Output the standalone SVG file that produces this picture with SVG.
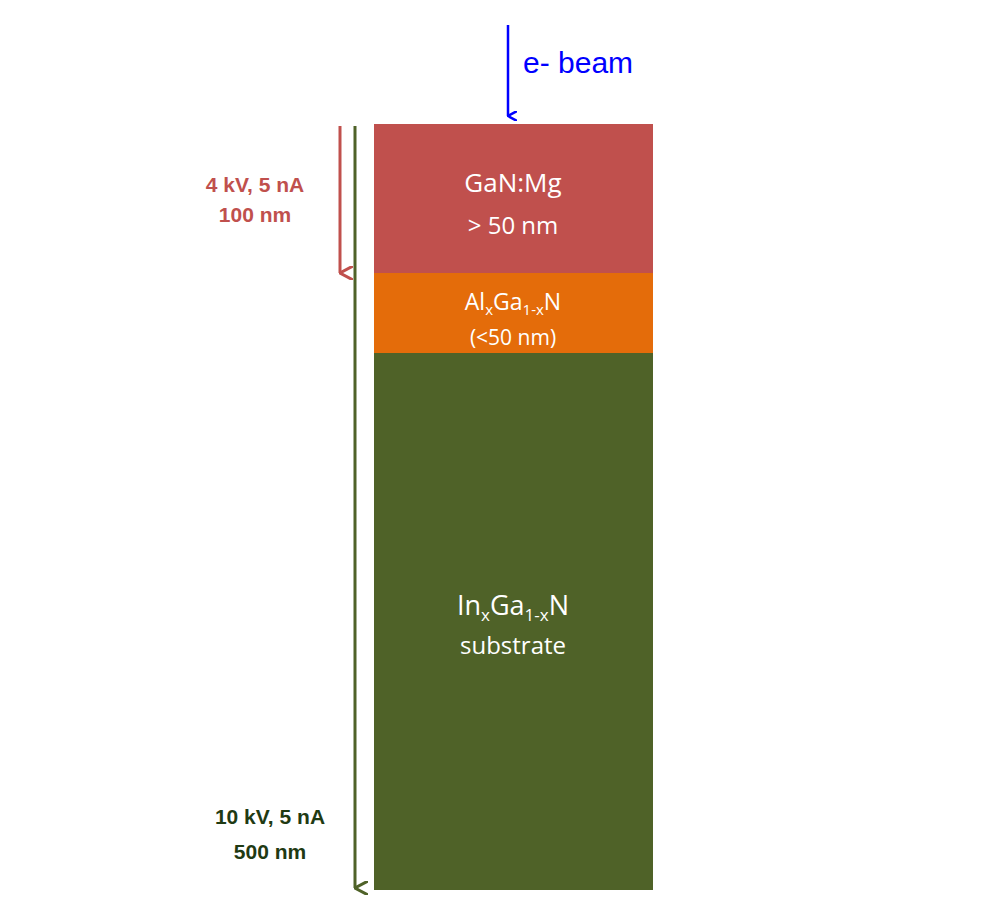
<svg xmlns="http://www.w3.org/2000/svg" width="1000" height="900" viewBox="0 0 1000 900">
<style>
.lbl{font-family:"Liberation Sans",Arial,sans-serif;font-weight:bold;font-size:21px;text-anchor:middle}
.in{font-family:"Open Sans","Liberation Sans",sans-serif;fill:#fff;text-anchor:middle}
</style>
<defs>
<marker id="hb" markerWidth="10" markerHeight="10" refX="5" refY="9" orient="auto" markerUnits="userSpaceOnUse" viewBox="0 0 10 10"><path d="M0,0 L5,9 L10,0" fill="none" stroke="#0000FF" stroke-width="2.5"/></marker>
<marker id="hr" markerWidth="14" markerHeight="14" refX="7" refY="13" orient="auto" markerUnits="userSpaceOnUse" viewBox="0 0 14 14"><path d="M0,0 L7,13 L14,0" fill="none" stroke="#C0504D" stroke-width="3"/></marker>
<marker id="hg" markerWidth="14" markerHeight="14" refX="7" refY="13" orient="auto" markerUnits="userSpaceOnUse" viewBox="0 0 14 14"><path d="M0,0 L7,13 L14,0" fill="none" stroke="#4F6228" stroke-width="3"/></marker>
</defs>
<rect width="1000" height="900" fill="#fff"/>
<g id="gan"><rect x="374" y="124" width="279" height="150" fill="#C0504D"/>
<text class="in" x="513" y="192" font-size="26">GaN:Mg</text>
<text class="in" x="513" y="234" font-size="24">&gt; 50 nm</text></g>
<g id="algan"><rect x="374" y="273" width="279" height="81" fill="#E46C0A"/>
<text class="in" x="513" y="310" font-size="23">Al<tspan font-size="15" dy="5">x</tspan><tspan dy="-5">Ga</tspan><tspan font-size="15" dy="5">1-x</tspan><tspan dy="-5">N</tspan></text>
<text class="in" x="513" y="345" font-size="21">(&lt;50 nm)</text></g>
<g id="ingan"><rect x="374" y="353" width="279" height="537" fill="#4F6228"/>
<text class="in" x="513" y="615" font-size="27">In<tspan font-size="17" dy="6">x</tspan><tspan dy="-6">Ga</tspan><tspan font-size="17" dy="6">1-x</tspan><tspan dy="-6">N</tspan></text>
<text class="in" x="513" y="654" font-size="24">substrate</text></g>
<g id="connectors">
<line x1="508" y1="25" x2="508" y2="116" stroke="#0000FF" stroke-width="2.5" marker-end="url(#hb)"/>
<line x1="340" y1="126" x2="340" y2="273" stroke="#C0504D" stroke-width="3" marker-end="url(#hr)"/>
<line x1="355" y1="126" x2="355" y2="888" stroke="#4F6228" stroke-width="3" marker-end="url(#hg)"/>
</g>
<text x="523" y="73" font-family="Liberation Sans,Arial,sans-serif" font-size="30" fill="#0000FF">e- beam</text>
<text class="lbl" x="255" y="192" fill="#C0504D">4 kV, 5 nA</text>
<text class="lbl" x="255" y="222" fill="#C0504D">100 nm</text>
<text class="lbl" x="270" y="824" fill="#1F3A13">10 kV, 5 nA</text>
<text class="lbl" x="270" y="859" fill="#1F3A13">500 nm</text>
</svg>
